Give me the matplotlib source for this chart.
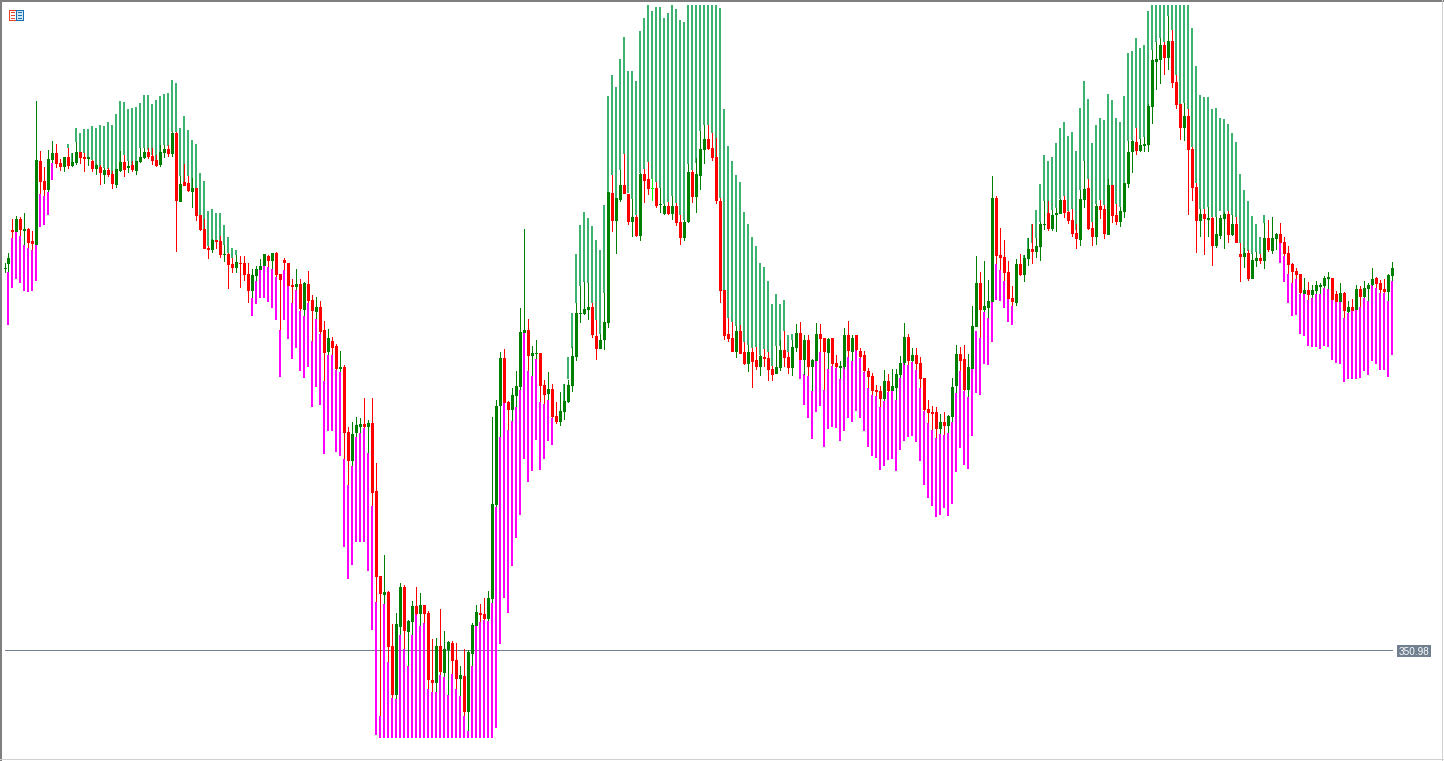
import numpy as np
import matplotlib
matplotlib.use("Agg")
import matplotlib.pyplot as plt
from matplotlib.patches import Rectangle

# All series are read as "ticks below the top of the price window"
REF_PRICE = 350.98
REF_TICKS = 651
TICK = 0.25
WINDOW_TICKS = 761

candle_dir = ("GGRGRGRRGR" "RGGRRGRGGR" "RGRGRGRRGG" "RGRGGGRRRG" "GRGRGRRGRR" "RRGRRGRRGR"
              "RRGGGGRGRR" "RRRGRGRRGR" "RGRRGRRGGG" "RGRRRGRRGG" "RGGRGRRRGR" "GGRRGRGGGR"
              "RGGGGRRGGG" "GRGGRRGRRG" "GGGGGGGRRG" "GGRGGRRGRG" "RRLRGGRGRR" "GGRGGGRRRR"
              "RRRGRRGRRG" "RRRGGRRGGR" "GRGGRRGRRG" "GRGRRRRRRR" "GRGGGGRGRR" "RRRRGRGGGR"
              "RGGGRGGGRR" "RRRGRGGRGG" "GRGGGRRRRG" "GRRGRRGRRG" "GGGRGGGGGG" "RGRRRGRRRG"
              "RGRGGGRGRR" "GRGGRGRGGR" "RRRRRGRGGG" "GGRRGRGRGR" "GGGRRRGG")

body_top = [
    268,258,230,219,219,229,229,241,160,161, 181,159,153,153,163,157,157,162,152,152,
    157,157,161,165,167,170,170,174,169,162, 162,166,165,161,157,152,152,156,160,152,
    149,149,133,133,184,182,183,188,188,215, 229,248,240,240,241,254,254,264,262,263,
    263,274,275,269,266,254,256,253,253,274, 260,263,285,284,284,283,284,300,307,307,
    330,338,341,346,367,367,432,434,425,424, 424,423,423,491,576,592,592,646,624,587,
    587,621,606,606,605,605,613,680,646,646, 649,642,643,660,675,676,652,625,612,613,
    614,598,504,406,358,358,402,395,386,332, 330,330,353,353,353,385,389,389,416,411,
    401,385,356,313,313,309,307,307,336,340, 322,192,193,198,185,185,194,217,217,174,
    174,179,188,188,204,206,206,206,206,222, 222,172,172,174,149,139,139,148,157,201,
    290,334,338,331,331,352,352,352,360,356, 357,358,369,367,350,350,357,347,333,333,
    340,340,360,334,334,338,339,338,363,366, 335,335,338,335,351,355,371,376,390,391,
    381,381,386,374,363,337,337,355,355,363, 378,409,412,412,422,422,416,387,354,354,
    359,367,326,283,283,306,301,198,198,255, 257,272,298,264,264,258,249,249,246,224,
    224,213,215,213,200,200,212,220,233,199, 189,188,228,206,206,209,185,185,215,211,
    183,152,141,142,145,144,106,60,59,45, 45,41,41,82,104,116,116,149,187,214,
    214,218,218,234,218,214,214,224,224,254, 253,253,260,258,258,238,238,238,234,234,
    242,253,264,271,274,290,290,290,285,285, 278,277,278,294,293,293,307,307,289,289,
    288,285,279,278,283,289,275,268]

body_bottom = [
    269,264,232,232,230,231,243,244,245,182, 190,190,160,164,167,167,166,166,163,158,
    159,159,169,169,173,175,175,184,185,171, 170,168,170,171,162,158,157,161,166,165,
    153,154,154,201,202,186,191,192,216,230, 249,250,250,242,255,255,265,268,268,264,
    275,291,291,276,270,266,261,261,275,280, 263,286,287,287,309,310,301,311,312,332,
    353,352,348,369,369,433,461,461,433,427, 427,427,493,577,594,595,647,695,695,627,
    631,632,622,614,614,614,680,683,683,672, 673,650,661,679,679,712,712,654,626,615,
    619,619,599,505,406,403,410,410,396,387, 333,356,356,354,386,395,394,417,422,422,
    412,402,386,357,314,314,310,335,349,349, 340,323,221,221,200,194,222,222,236,236,
    181,189,189,206,205,214,214,214,223,238, 238,222,197,197,176,150,149,158,201,291,
    336,339,352,352,354,364,364,362,367,367, 359,370,375,374,368,358,368,368,348,360,
    360,367,367,361,339,352,353,364,367,368, 367,351,352,350,357,371,377,391,392,399,
    399,391,391,388,375,363,361,361,364,379, 410,413,414,429,429,426,426,417,386,361,
    390,390,369,327,310,310,308,302,256,258, 273,299,302,303,275,275,259,252,252,247,
    225,229,229,215,214,213,221,234,239,240, 200,229,237,237,210,234,235,216,222,222,
    212,184,152,151,151,146,145,107,62,60, 58,58,83,105,128,128,150,188,221,221,
    219,220,246,246,236,219,235,235,243,257, 257,279,279,261,261,261,250,251,239,243,
    254,265,272,275,293,294,295,295,291,287, 286,279,300,302,302,311,312,311,310,297,
    297,289,285,284,290,292,292,276]

wick_high = [
    263,253,219,216,217,213,228,231,101,151, 167,150,141,144,159,157,148,153,142,152,
    153,157,160,164,165,168,168,171,169,151, 155,161,161,161,148,148,148,148,155,145,
    145,145,132,132,176,164,176,178,188,215, 219,246,239,240,236,245,253,258,255,256,
    256,263,269,266,259,254,255,253,252,274, 258,263,279,269,279,282,271,295,297,301,
    321,329,337,344,351,365,427,422,417,418, 398,420,398,463,576,555,591,624,613,583,
    585,620,601,587,593,605,611,639,638,609, 631,641,641,643,666,649,650,623,605,604,
    598,591,417,400,352,349,401,388,371,308, 229,319,346,340,353,380,372,384,402,392,
    384,380,347,303,286,282,283,303,320,334, 293,192,175,198,170,154,194,199,215,173,
    169,162,179,182,188,204,202,196,203,215, 220,164,170,158,131,125,125,133,138,198,
    290,318,322,326,325,342,345,348,347,355, 349,352,366,346,340,331,352,340,324,322,
    335,335,359,323,324,338,338,338,355,361, 328,321,335,335,348,351,368,373,385,386,
    370,374,369,369,356,323,334,348,348,357, 378,400,406,407,414,412,415,378,345,347,
    345,354,306,256,272,261,280,176,196,228, 240,261,286,259,254,255,238,224,238,222,
    201,201,210,208,199,196,211,209,224,190, 161,179,222,204,200,205,179,185,204,207,
    183,141,140,128,139,137,104,50,42,38, 42,16,30,75,104,103,109,147,183,209,
    209,207,217,217,215,212,211,215,217,243, 248,250,254,252,254,223,220,217,233,223,
    237,246,263,268,274,278,282,285,281,283, 276,272,278,291,283,292,301,299,285,286,
    281,283,268,277,280,279,274,262]

wick_low = [
    273,272,238,232,236,245,248,250,245,194, 196,192,163,168,171,172,169,167,165,164,
    172,166,172,175,185,184,177,189,188,172, 177,173,172,175,163,159,159,165,167,167,
    158,157,157,252,202,186,192,208,221,231, 249,259,253,249,258,262,289,273,273,288,
    281,303,298,281,270,266,267,269,277,330, 270,286,303,290,311,316,303,341,319,334,
    381,355,355,370,372,459,485,466,437,433, 428,453,506,602,716,604,662,698,699,635,
    649,666,635,615,626,623,689,692,692,675, 677,695,674,689,696,716,731,666,626,622,
    620,621,603,507,437,403,430,421,407,390, 333,371,376,359,402,404,400,418,424,426,
    420,403,392,361,323,315,320,338,360,349, 350,328,232,254,202,194,225,237,237,241,
    203,195,201,208,213,215,215,220,226,245, 241,223,203,213,190,164,150,161,204,303,
    340,342,352,358,354,365,372,388,370,376, 367,381,381,374,371,367,374,376,352,360,
    375,376,391,361,352,390,369,366,368,379, 369,357,361,351,358,372,388,395,396,407,
    401,392,391,400,378,365,365,362,370,388, 411,423,430,438,434,435,433,422,393,371,
    391,397,369,327,338,312,318,302,264,270, 281,299,306,306,276,282,266,264,258,261,
    230,231,231,232,214,218,224,237,249,246, 208,230,246,245,219,239,235,223,225,227,
    218,188,173,155,152,152,152,124,90,84, 75,70,88,109,140,141,215,201,253,237,
    255,237,266,248,239,249,243,236,243,282, 268,281,279,267,264,269,252,254,250,243,
    256,274,283,279,294,294,300,298,294,294, 288,289,300,302,302,318,313,311,310,307,
    298,301,286,288,293,293,301,281]

# 0 marks a bar without a band
band_top = [
    0,272,238,232,236,245,248,250,244,194, 196,192,163,0,0,0,144,153,128,133,
    129,129,126,128,125,126,122,125,114,101, 102,109,108,107,103,95,95,104,100,96,
    94,93,80,83,128,116,130,140,144,173, 181,211,209,213,213,225,237,248,250,0,
    0,0,298,281,270,265,267,269,277,330, 270,286,303,290,311,316,303,341,319,334,
    381,355,355,370,372,459,485,466,437,433, 428,453,506,602,716,604,662,698,699,635,
    649,666,635,614,626,623,689,692,692,675, 677,695,674,689,696,716,731,666,626,622,
    620,621,603,507,437,403,430,421,407,390, 333,371,376,359,402,404,400,418,0,0,
    384,357,313,254,225,212,218,226,240,250, 205,96,75,87,59,37,71,71,81,31,
    18,5,11,7,7,18,13,5,9,20, 22,5,5,5,5,5,5,5,5,8,
    109,146,161,175,182,212,224,237,246,263, 267,281,304,294,304,300,335,334,0,360,
    374,376,391,361,352,390,369,366,368,379, 366,357,361,350,358,372,388,395,396,407,
    401,392,390,400,378,363,365,362,370,388, 411,423,430,438,434,435,433,422,393,371,
    391,397,369,331,338,312,318,302,264,270, 281,299,306,0,0,255,238,224,210,184,
    155,161,157,143,128,122,136,132,151,108, 81,99,143,125,118,120,94,100,118,122,
    96,53,51,38,48,45,11,5,5,5, 5,5,5,5,5,5,5,28,66,95,
    97,97,109,108,118,119,124,133,142,174, 190,201,216,224,237,215,0,0,0,243,
    256,274,283,279,294,294,300,298,294,294, 288,289,300,302,302,318,313,311,310,307,
    298,301,285,288,293,293,301,281]

band_bottom = [
    0,325,288,279,283,291,292,291,281,227, 225,215,180,0,0,0,148,162,142,152,
    153,157,160,165,167,168,169,174,169,162, 155,161,165,161,148,148,150,155,160,152,
    145,146,132,132,176,182,176,188,188,215, 229,246,240,240,241,245,253,258,255,0,
    0,0,316,304,298,298,302,308,320,377, 320,339,359,348,371,378,367,407,387,405,
    454,431,431,452,456,547,579,565,542,542, 542,571,630,735,738,738,738,738,738,738,
    738,738,738,738,738,738,738,738,738,738, 738,738,738,738,738,738,738,738,738,738,
    738,738,738,728,644,598,613,566,538,515, 459,482,471,440,470,459,441,445,0,0,
    401,379,348,303,286,282,283,303,320,334, 293,192,175,198,170,154,193,199,215,173,
    169,162,179,182,188,204,202,196,203,215, 220,164,170,163,131,125,125,133,157,198,
    290,318,322,326,331,342,345,348,347,355, 349,352,366,346,346,331,352,340,0,379,
    405,418,439,412,406,447,429,427,428,441, 431,418,422,411,418,431,447,456,458,470,
    466,460,459,471,450,441,437,436,442,461, 485,498,506,517,515,508,516,504,472,448,
    465,469,436,393,395,364,365,342,300,301, 308,322,325,0,0,258,249,243,238,222,
    201,213,210,208,199,196,211,209,230,190, 161,179,222,204,200,205,185,185,204,207,
    183,141,140,128,139,137,106,50,42,38, 42,16,30,75,104,103,109,147,183,209,
    209,207,217,217,211,214,211,215,217,243, 253,251,254,252,254,223,0,0,0,263,
    282,303,316,315,334,336,346,347,347,349, 346,347,360,363,364,382,379,379,379,378,
    371,375,361,364,370,370,377,355]

level_label = "350.98"

GREEN, RED, LIME = "#008000", "#FF0000", "#00FF00"
BAND_UP, BAND_DOWN = "#3CB371", "#FF00FF"
LEVEL = "#708090"
W, H = 1444, 761
BAR_PX = 4.0
FIRST_PX = 4.5


def price(ticks):
    return REF_PRICE + (REF_TICKS - np.asarray(ticks, dtype=float)) * TICK


n = len(candle_dir)
for name, arr in [("body_top", body_top), ("body_bottom", body_bottom), ("wick_high", wick_high),
                  ("wick_low", wick_low), ("band_top", band_top), ("band_bottom", band_bottom)]:
    if len(arr) != n:
        raise SystemExit(f"{name} has {len(arr)} values, expected {n}")

xs = np.arange(n, dtype=float)
xs[0] += 0.3   # the first bar is squeezed against the left edge of the window

fig = plt.figure(figsize=(W / 100, H / 100), dpi=100, facecolor="white")
ax = fig.add_axes([0, 0, 1, 1])
ax.set_xlim(-FIRST_PX / BAR_PX, (W - FIRST_PX) / BAR_PX)
ax.set_ylim(price(WINDOW_TICKS), price(0))
ax.axis("off")

bt, bb = np.array(band_top, float), np.array(band_bottom, float)
ct, cb = np.array(body_top, float), np.array(body_bottom, float)
wh, wl = np.array(wick_high, float), np.array(wick_low, float)
has_band = bt > 0
above = (bt + bb) < (ct + cb)
band_cols = np.where(above, BAND_UP, BAND_DOWN)
ax.bar(xs[has_band] - 0.125, price(bt[has_band]) - price(bb[has_band]), width=0.5,
       bottom=price(bb[has_band]), color=band_cols[has_band], linewidth=0,
       antialiased=False, zorder=2)

cmap = {"G": GREEN, "R": RED, "L": LIME}
cols = [cmap[d] for d in candle_dir]
ax.bar(xs, price(wh) - price(wl), width=0.25, bottom=price(wl), color=cols,
       linewidth=0, antialiased=False, zorder=3)
ax.bar(xs, price(ct) - price(cb), width=0.75, bottom=price(cb), color=cols,
       linewidth=0, antialiased=False, zorder=4)

# level line behind the bars: one pixel row just above the level's tick
ax.barh(price(REF_TICKS - 0.5), xs[-1] + 0.2 - (5 - FIRST_PX) / BAR_PX, height=TICK,
        left=(5 - FIRST_PX) / BAR_PX, color=LEVEL, linewidth=0, antialiased=False, zorder=1)


def px_rect(x, y, w, h, color):
    fig.patches.append(Rectangle((x / W, 1 - (y + h) / H), w / W, h / H, transform=fig.transFigure,
                                 facecolor=color, edgecolor="none", antialiased=False, figure=fig))


px_rect(1397, 645, 34, 12, LEVEL)
fig.text(1414 / W, 1 - 651 / H, level_label, color="white", fontsize=7.2, ha="center",
         va="center_baseline", family="Liberation Sans", zorder=10)

# window frame
px_rect(0, 0, W, 2, "#7F7F7F")
px_rect(0, 0, 2, H, "#7F7F7F")
px_rect(W - 2, 0, 1, H, "#D0D0D0")
px_rect(0, H - 2, W, 1, "#D0D0D0")

# indicator-list icon
px_rect(9, 10, 8, 11, "#E8402A")
px_rect(16, 10, 8, 11, "#1C6DB0")
px_rect(10, 11, 6, 9, "#FFFFFF")
px_rect(17, 11, 6, 9, "#CFE8F8")
for row in (12, 15, 18):
    px_rect(11, row, 4, 1, "#E8402A")
    px_rect(18, row, 4, 1, "#1C6DB0")

fig.savefig("out.png", dpi=100, facecolor="white")
